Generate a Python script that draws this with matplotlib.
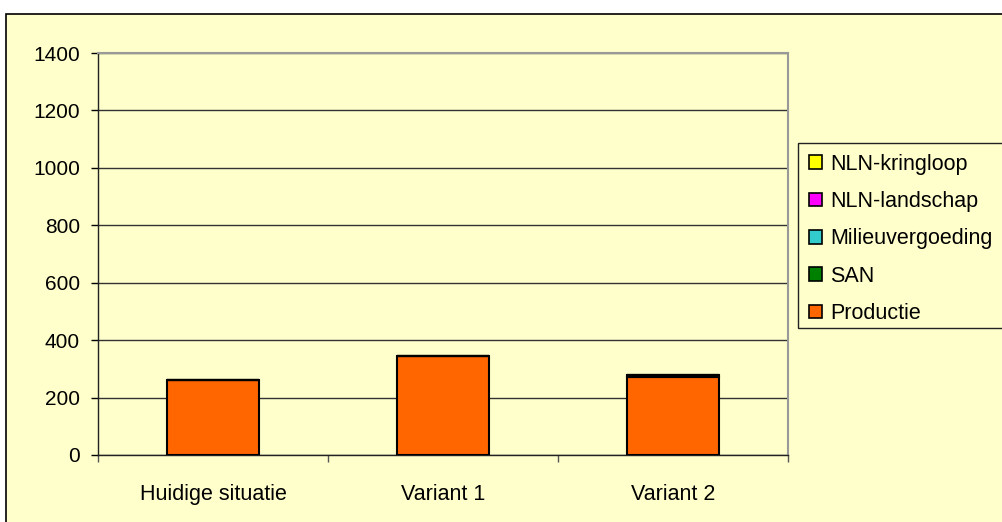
import matplotlib
matplotlib.use("Agg")
import matplotlib.pyplot as plt
from matplotlib.patches import Rectangle, Patch
import numpy as np

plt.rcParams['font.family'] = ['Liberation Sans', 'DejaVu Sans']

categories = ["Huidige situatie", "Variant 1", "Variant 2"]
series_names = ["Productie", "SAN", "Milieuvergoeding", "NLN-landschap", "NLN-kringloop"]
productie = [261, 345, 272]
san = [0, 0, 8]
milieuvergoeding = [0, 0, 0]
nln_landschap = [0, 0, 0]
nln_kringloop = [0, 0, 0]
series_values = [productie, san, milieuvergoeding, nln_landschap, nln_kringloop]
colors = ["#FF6600", "#008000", "#33CCCC", "#FF00FF", "#FFFF00"]
yticks = [0, 200, 400, 600, 800, 1000, 1200, 1400]

BG = "#FFFFCC"
W, H = 1003, 522
fig = plt.figure(figsize=(W / 100, H / 100), dpi=100)
fig.patch.set_facecolor("white")
# chart area with black frame
fig.patches.append(Rectangle((6 / W, -0.1), 1.2, 1 - 14 / H + 0.1, transform=fig.transFigure,
                             facecolor=BG, edgecolor="black", linewidth=1.2, zorder=0))
# legend frame
fig.patches.append(Rectangle((798 / W, 1 - 328 / H), 0.3, (328 - 143) / H, transform=fig.transFigure,
                             facecolor=BG, edgecolor="#222222", linewidth=1, zorder=1))

l, r, t, b = 98, 788, 53, 455
ax = fig.add_axes([l / W, 1 - b / H, (r - l) / W, (b - t) / H])
ax.set_zorder(2)
ax.set_facecolor(BG)

x = np.arange(len(categories))
bottom = np.zeros(len(categories))
for name, vals, c in zip(series_names, series_values, colors):
    v = np.array(vals, dtype=float)
    ax.bar(x, v, width=0.4, bottom=bottom, color=c, edgecolor="black", linewidth=1.5, zorder=3)
    bottom += v

ax.set_xlim(-0.5, len(categories) - 0.5)
ax.set_ylim(0, 1400)
ax.set_yticks(yticks)
ax.set_yticklabels([str(v) for v in yticks])
ax.set_xticks(x)
ax.set_xticklabels(categories)
ax.set_xticks(np.arange(-0.5, len(categories), 1), minor=True)
ax.tick_params(axis='x', which='major', length=0, pad=21, labelsize=15.5)
ax.tick_params(axis='x', which='minor', length=5, width=1, direction='out', color="#555555")
ax.tick_params(axis='y', which='major', length=5, width=1, direction='out', pad=8, labelsize=15)
ax.yaxis.grid(True, color="#333333", linewidth=1)
ax.set_axisbelow(True)
for s in ['left', 'bottom']:
    ax.spines[s].set_color("#222222")
    ax.spines[s].set_linewidth(1)
for s in ['top', 'right']:
    ax.spines[s].set_color("#999999")
    ax.spines[s].set_linewidth(1.5)

handles = [Patch(facecolor=c, edgecolor="black", linewidth=1.2) for c in colors][::-1]
labels = series_names[::-1]
leg = fig.legend(handles, labels, loc='upper left', bbox_to_anchor=(798 / W, 1 - 143 / H),
                 frameon=False, fontsize=15.5, handlelength=0.6, handleheight=0.6,
                 handletextpad=0.4, labelspacing=0.76, borderpad=0.5, borderaxespad=0)
leg.set_zorder(3)

fig.savefig("out.png", dpi=100, facecolor=fig.get_facecolor())
